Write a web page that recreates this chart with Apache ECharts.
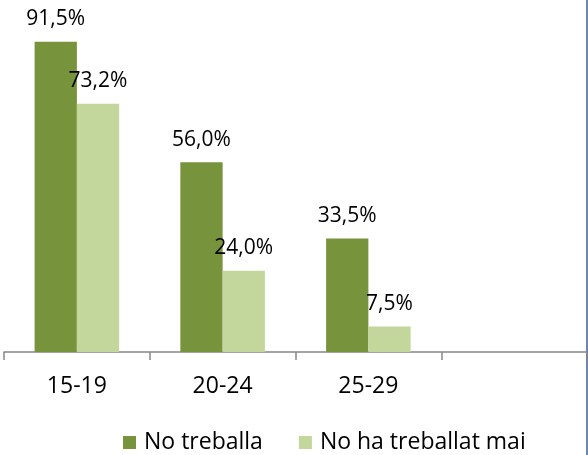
<!DOCTYPE html>
<html><head><meta charset="utf-8">
<script src="https://cdn.jsdelivr.net/npm/echarts@6/dist/echarts.min.js"></script>
<style>html,body{margin:0;padding:0;background:#fff}#c{width:588px;height:455px}</style>
</head><body><div id="c"></div>
<script>
const categories = ['15-19', '20-24', '25-29', ''];
const noTreballa = [91.5, 56.0, 33.5, null];
const noHaTreballatMai = [73.2, 24.0, 7.5, null];
const seriesNames = ['No treballa', 'No ha treballat mai'];

const chart = echarts.init(document.getElementById('c'));
const fontFamily = 'Open Sans, Lato, sans-serif';
const lbl = {
  show: true, position: 'top', distance: 12, color: '#000', fontSize: 21, fontFamily,
  formatter: p => p.value == null ? '' : p.value.toFixed(1).replace('.', ',') + '%'
};
chart.setOption({
  animation: false,
  grid: { left: 4, right: 1, top: 13, bottom: 103 },
  legend: {
    top: 429, left: 123, itemWidth: 13, itemHeight: 13, itemGap: 36, padding: 0,
    icon: 'rect',
    textStyle: { fontSize: 23, lineHeight: 27, fontFamily, color: '#000', padding: [0, 0, 0, 3] },
    data: seriesNames
  },
  xAxis: {
    type: 'category', data: categories,
    axisLine: { lineStyle: { color: '#868686', width: 1.5 } },
    axisTick: { show: true, length: 8, alignWithLabel: false, lineStyle: { color: '#868686', width: 1.5 } },
    axisLabel: { fontSize: 23, fontFamily, color: '#000', margin: 23 }
  },
  yAxis: { type: 'value', min: 0, max: 100, show: false, splitLine: { show: false } },
  series: [
    { name: seriesNames[0], type: 'bar', data: noTreballa, itemStyle: { color: '#77933C' },
      barGap: '0%', barCategoryGap: '42%', label: lbl },
    { name: seriesNames[1], type: 'bar', data: noHaTreballatMai, itemStyle: { color: '#C3D69B' },
      label: lbl }
  ],
  graphic: [{ type: 'line', shape: { x1: 587, y1: 0, x2: 587, y2: 455 }, style: { stroke: '#3E5E8E', lineWidth: 1.5 } }]
});
</script></body></html>
